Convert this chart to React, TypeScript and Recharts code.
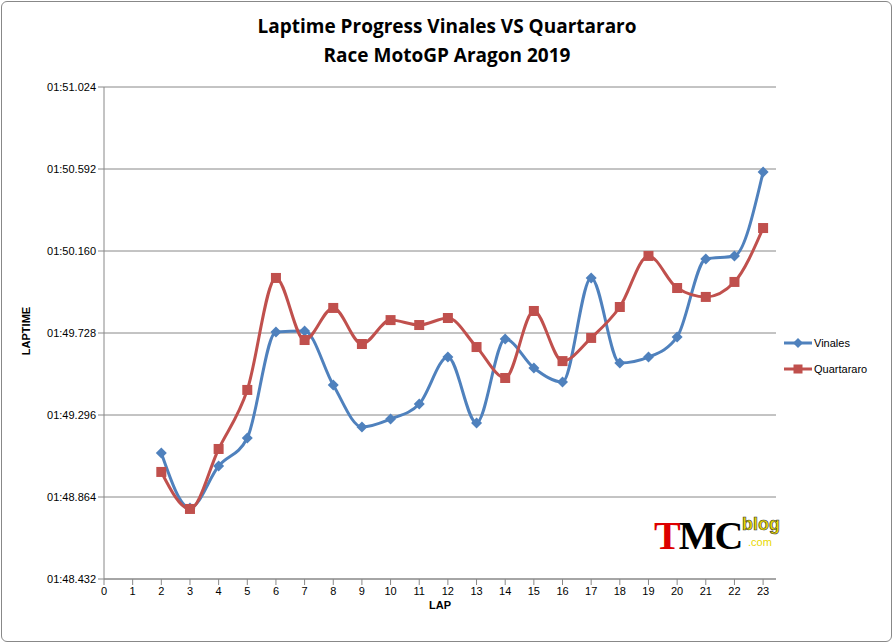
import React from "react";
import { LineChart, Line, XAxis, YAxis, CartesianGrid } from "recharts";

const laps = [2,3,4,5,6,7,8,9,10,11,12,13,14,15,16,17,18,19,20,21,22,23];
const vinales = [109.096,108.806,109.027,109.175,109.733,109.738,109.454,109.233,109.275,109.354,109.601,109.254,109.696,109.544,109.470,110.018,109.570,109.601,109.707,110.118,110.134,110.576];
const quartararo = [108.996,108.801,109.117,109.428,110.018,109.691,109.860,109.670,109.796,109.770,109.807,109.654,109.491,109.844,109.580,109.702,109.865,110.134,109.965,109.918,109.997,110.281];
const yTicks = [108.432,108.864,109.296,109.728,110.16,110.592,111.024];
const xTicks = [0,1,2,3,4,5,6,7,8,9,10,11,12,13,14,15,16,17,18,19,20,21,22,23];

const data = laps.map((lap, i) => ({ lap, Vinales: vinales[i], Quartararo: quartararo[i] }));

const fmt = (v: number) => {
  const m = Math.floor(v / 60);
  const s = v - m * 60;
  return `${String(m).padStart(2, "0")}:${s.toFixed(3).padStart(6, "0")}`;
};

const Diamond = (p: any) => {
  const { cx, cy } = p;
  if (cx == null || cy == null) return null;
  return <path d={`M${cx},${cy - 5.5}L${cx + 5.5},${cy}L${cx},${cy + 5.5}L${cx - 5.5},${cy}Z`} fill="#4F81BD" />;
};
const Square = (p: any) => {
  const { cx, cy } = p;
  if (cx == null || cy == null) return null;
  return <rect x={cx - 5} y={cy - 5} width={10} height={10} fill="#C0504D" />;
};

const font = "Liberation Sans, Arial, sans-serif";

export default function App() {
  return (
    <div style={{ position: "absolute", left: 0, top: 0, width: 894, height: 643, background: "#fff", fontFamily: font }}>
      <div style={{ position: "absolute", left: 1, top: 1, width: 889, height: 639, border: "1px solid #888", borderRadius: 6 }} />
      <div style={{ position: "absolute", left: 0, top: 12, width: 894, textAlign: "center", fontFamily: "Open Sans, sans-serif", fontWeight: 700, fontSize: 19, lineHeight: "29px" }}>
        Laptime Progress Vinales VS Quartararo<br />Race MotoGP Aragon 2019
      </div>
      <LineChart width={894} height={643} data={data} margin={{ top: 87, right: 118, bottom: 34, left: 12 }} style={{ position: "absolute", left: 0, top: 0 }}>
        <CartesianGrid horizontal vertical={false} stroke="#888" />
        <XAxis dataKey="lap" type="number" domain={[0, 23.45]} ticks={xTicks} interval={0} height={30} tick={{ fill: "#000", fontSize: 11, fontFamily: font }} tickLine={{ stroke: "#888" }} axisLine={{ stroke: "#888" }}
          label={{ value: "LAP", position: "insideBottom", offset: 0, fontSize: 11, fontWeight: 700, fill: "#000" }} />
        <YAxis type="number" domain={[108.432, 111.024]} ticks={yTicks} interval={0} width={92} tickFormatter={fmt} tick={{ fill: "#000", fontSize: 11, fontFamily: font }} tickLine={{ stroke: "#888" }} axisLine={{ stroke: "#888" }} />
        <Line type="monotone" dataKey="Vinales" stroke="#4F81BD" strokeWidth={3} dot={<Diamond />} isAnimationActive={false} />
        <Line type="monotone" dataKey="Quartararo" stroke="#C0504D" strokeWidth={3} dot={<Square />} isAnimationActive={false} />
      </LineChart>
      <div style={{ position: "absolute", left: -4, top: 325, transform: "rotate(-90deg)", fontSize: 11, fontWeight: 700, width: 60, textAlign: "center" }}>LAPTIME</div>
      <div style={{ position: "absolute", left: 784, top: 334, fontSize: 11, fontFamily: font }}>
        <div style={{ display: "flex", alignItems: "center", height: 18 }}>
          <svg width={28} height={12}><line x1={0} y1={6} x2={28} y2={6} stroke="#4F81BD" strokeWidth={3} /><path d="M14,1L19,6L14,11L9,6Z" fill="#4F81BD" /></svg>
          <span style={{ marginLeft: 2 }}>Vinales</span>
        </div>
        <div style={{ display: "flex", alignItems: "center", height: 18, marginTop: 8 }}>
          <svg width={28} height={12}><line x1={0} y1={6} x2={28} y2={6} stroke="#C0504D" strokeWidth={3} /><rect x={9.5} y={1.5} width={9} height={9} fill="#C0504D" /></svg>
          <span style={{ marginLeft: 2 }}>Quartararo</span>
        </div>
      </div>
      <div style={{ position: "absolute", left: 654, top: 512, fontFamily: "Liberation Serif, serif", fontWeight: 700, fontSize: 40, letterSpacing: -2 }}>
        <span style={{ color: "#d00" }}>T</span><span>MC</span>
        <span style={{ position: "absolute", left: 88, top: 2, fontFamily: "Liberation Sans, sans-serif", fontSize: 18, color: "#e8d800", WebkitTextStroke: "0.6px #333", letterSpacing: 0 }}>blog</span>
        <span style={{ position: "absolute", left: 94, top: 24, fontFamily: "Liberation Sans, sans-serif", fontSize: 11, color: "#e8d800", fontWeight: 400, letterSpacing: 0 }}>.com</span>
      </div>
    </div>
  );
}
